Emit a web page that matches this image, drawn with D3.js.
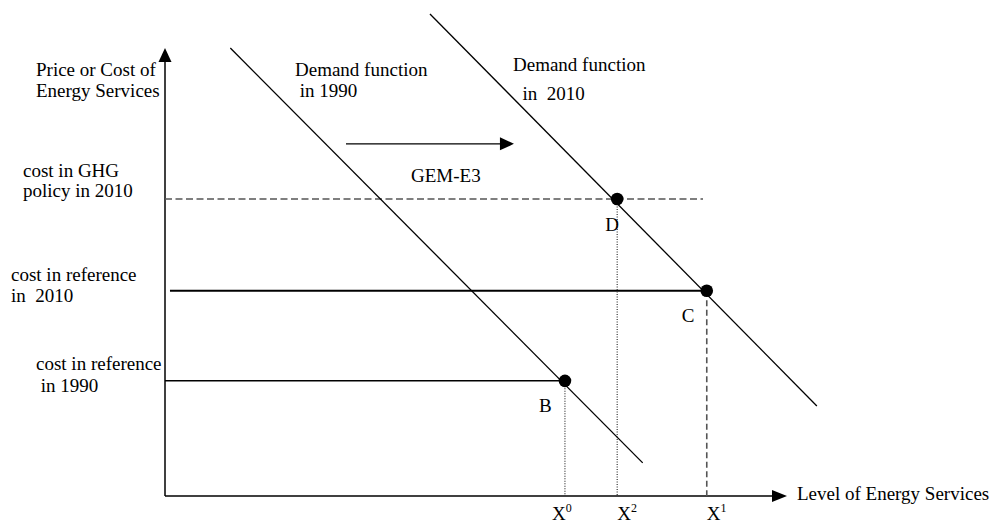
<!DOCTYPE html>
<html>
<head>
<meta charset="utf-8">
<script src="https://cdn.jsdelivr.net/npm/d3@7"></script>
<style>
  html, body { margin: 0; padding: 0; background: #fff; }
  svg { display: block; }
  text { font-family: "Liberation Serif", "Times New Roman", serif; font-size: 19px; fill: #000; white-space: pre; }
</style>
</head>
<body>
<svg id="chart" width="993" height="525"></svg>
<script>
// ---- data (diagram units: quantity 0..100, price 0..100) ----
const quantityLevels = { X0: 64.3, X2: 72.7, X1: 87.1 };
const priceLevels = { ghg2010: 66.3, ref2010: 45.8, ref1990: 25.7 };
const demand1990 = [[10.5, 100], [76.8, 7.4]];
const demand2010 = [[42.6, 107.6], [104.8, 20.1]];
const pointNames = ["B", "C", "D"];
const pointQ = [64.3, 87.1, 72.7];
const pointP = [25.7, 45.8, 66.3];
const shiftArrow = [[29.1, 78.6], [56.1, 78.6]];
const xTickBase = ["X", "X", "X"];
const xTickSup = ["0", "2", "1"];
const xTickQ = [64.3, 72.7, 87.1];

// ---- scales ----
const x = d3.scaleLinear().domain([0, 100]).range([165, 787]);
const y = d3.scaleLinear().domain([0, 100]).range([496, 48]);

const svg = d3.select("#chart");
const line = d3.line().x(d => x(d[0])).y(d => y(d[1]));

// axes
svg.append("line").attr("x1", x(0)).attr("y1", y(0)).attr("x2", x(0)).attr("y2", y(97))
  .attr("stroke", "#000").attr("stroke-width", 1.5);
svg.append("path")
  .attr("d", `M${x(0)},${y(100)} L${x(0) - 6.5},${y(100) + 14} L${x(0) + 6.5},${y(100) + 14} Z`)
  .attr("fill", "#000");
svg.append("line").attr("x1", x(0)).attr("y1", y(0)).attr("x2", x(98)).attr("y2", y(0))
  .attr("stroke", "#000").attr("stroke-width", 1.5);
svg.append("path")
  .attr("d", `M${x(100)},${y(0)} L${x(100) - 15},${y(0) - 6} L${x(100) - 15},${y(0) + 6} Z`)
  .attr("fill", "#000");

// horizontal price levels
svg.append("line").attr("x1", x(0)).attr("x2", x(86.5))
  .attr("y1", y(priceLevels.ghg2010)).attr("y2", y(priceLevels.ghg2010))
  .attr("stroke", "#555").attr("stroke-width", 1.3).attr("stroke-dasharray", "7,3.5");
svg.append("line").attr("x1", x(0.8)).attr("x2", x(quantityLevels.X1))
  .attr("y1", y(priceLevels.ref2010)).attr("y2", y(priceLevels.ref2010))
  .attr("stroke", "#000").attr("stroke-width", 2);
svg.append("line").attr("x1", x(0)).attr("x2", x(quantityLevels.X0))
  .attr("y1", y(priceLevels.ref1990)).attr("y2", y(priceLevels.ref1990))
  .attr("stroke", "#000").attr("stroke-width", 1.5);

// vertical quantity levels
svg.append("line").attr("x1", x(quantityLevels.X0)).attr("x2", x(quantityLevels.X0))
  .attr("y1", y(priceLevels.ref1990)).attr("y2", y(0))
  .attr("stroke", "#333").attr("stroke-width", 1.2).attr("stroke-dasharray", "1,1.5");
svg.append("line").attr("x1", x(quantityLevels.X2)).attr("x2", x(quantityLevels.X2))
  .attr("y1", y(priceLevels.ghg2010)).attr("y2", y(0))
  .attr("stroke", "#333").attr("stroke-width", 1.2).attr("stroke-dasharray", "1,1.5");
svg.append("line").attr("x1", x(quantityLevels.X1)).attr("x2", x(quantityLevels.X1))
  .attr("y1", y(priceLevels.ref2010)).attr("y2", y(0))
  .attr("stroke", "#555").attr("stroke-width", 1.6).attr("stroke-dasharray", "6,3.5");

// demand functions
svg.append("path").attr("d", line(demand1990)).attr("fill", "none")
  .attr("stroke", "#000").attr("stroke-width", 1.3);
svg.append("path").attr("d", line(demand2010)).attr("fill", "none")
  .attr("stroke", "#000").attr("stroke-width", 1.3);

// shift arrow
svg.append("line").attr("x1", x(shiftArrow[0][0])).attr("y1", y(shiftArrow[0][1]))
  .attr("x2", x(shiftArrow[1][0]) - 12).attr("y2", y(shiftArrow[1][1]))
  .attr("stroke", "#000").attr("stroke-width", 1.3);
svg.append("path")
  .attr("d", `M${x(shiftArrow[1][0])},${y(shiftArrow[1][1])} L${x(shiftArrow[1][0]) - 14},${y(shiftArrow[1][1]) - 6.5} L${x(shiftArrow[1][0]) - 14},${y(shiftArrow[1][1]) + 6.5} Z`)
  .attr("fill", "#000");

// equilibrium points
svg.selectAll("circle.pt").data(pointNames).join("circle").attr("class", "pt")
  .attr("cx", (d, i) => x(pointQ[i])).attr("cy", (d, i) => y(pointP[i]))
  .attr("r", 6.3).attr("fill", "#000");

const ptOffset = { B: [-26, 31], C: [-25, 31], D: [-12, 32] };
svg.selectAll("text.pt").data(pointNames).join("text").attr("class", "pt")
  .attr("x", (d, i) => x(pointQ[i]) + ptOffset[d][0])
  .attr("y", (d, i) => y(pointP[i]) + ptOffset[d][1])
  .text(d => d);

// x tick labels
const tickOffset = [-13, 0, 0];
xTickBase.forEach((b, i) => {
  const t = svg.append("text").attr("x", x(xTickQ[i]) + tickOffset[i]).attr("y", 520);
  t.append("tspan").text(b);
  t.append("tspan").attr("dy", -8).style("font-size", "12px").text(xTickSup[i]);
});

// text labels
function label(lines, xs, ys) {
  lines.forEach((s, i) => svg.append("text").attr("x", xs[i]).attr("y", ys[i]).text(s));
}
label(["Price or Cost of", "Energy Services"], [36, 36], [76, 97]);
label(["cost in GHG", "policy in 2010"], [23, 23], [177, 197]);
label(["cost in reference", "in  2010"], [11, 11], [281, 302]);
label(["cost in reference", " in 1990"], [36, 36], [370, 392]);
label(["Demand function", " in 1990"], [295, 295], [76, 97]);
label(["Demand function", "  in  2010"], [513, 513], [71, 100]);
label(["GEM-E3"], [411], [182]);
label(["Level of Energy Services"], [797], [500]);
</script>
</body>
</html>
